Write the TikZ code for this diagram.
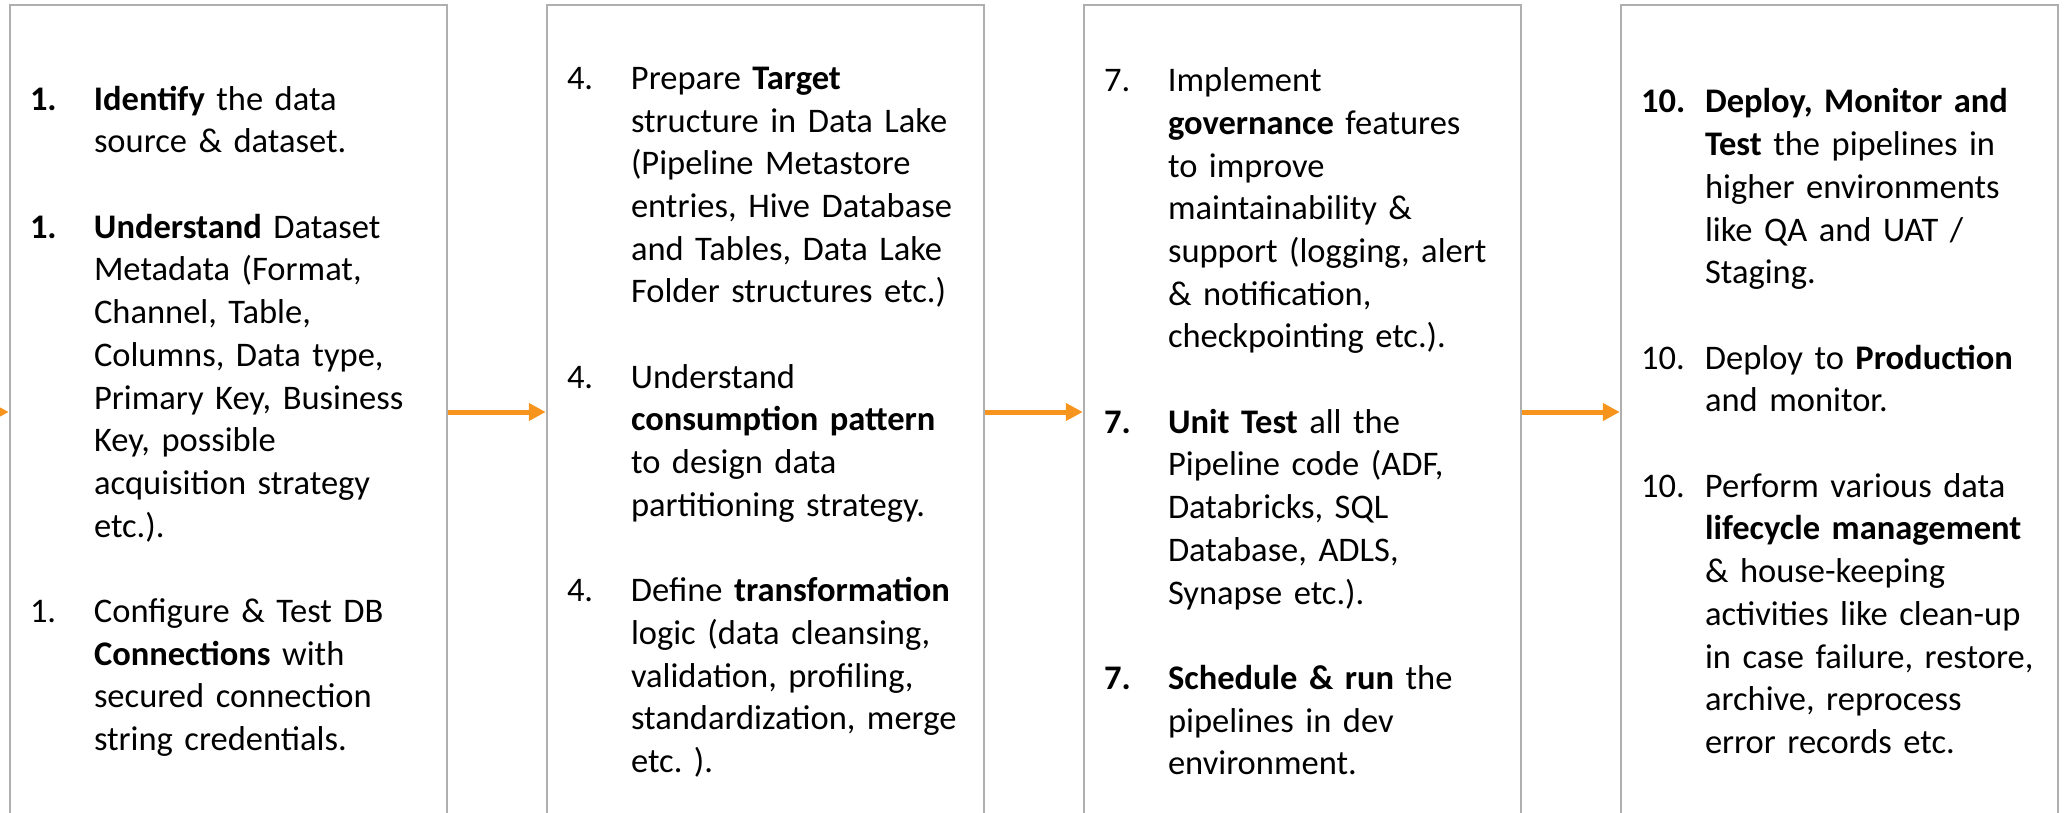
\documentclass[tikz,border=0pt]{standalone}
\usepackage{fontspec}
\setmainfont{Carlito}
\usetikzlibrary{positioning,arrows.meta}
\definecolor{boxgray}{RGB}{175,175,175}
\definecolor{floworange}{RGB}{247,148,29}
\frenchspacing
\newcommand{\stepline}[2]{\par\leftskip=9pt\hangindent=32pt\hangafter=1\noindent\makebox[32pt][l]{#1}#2\par}
\newcommand{\stepgap}{\par\vskip 21.35pt}

\begin{document}
\begin{tikzpicture}[x=0.5pt,y=-0.5pt,
  stage/.style={draw=boxgray, line width=1.25pt, minimum width=218.5pt, minimum height=407pt,
    text width=216.5pt, inner xsep=1pt, inner ysep=0pt, align=left,
    font=\fontsize{17.25}{21.35}\selectfont},
  flow/.style={draw=floworange, line width=2.5pt, -{Triangle[length=8.5pt,width=8.5pt]}}]
\useasboundingbox (0,0) rectangle (2065,813);
\clip (0,0) rectangle (2065,813);
\node[stage] (box1) at (228.5,412) {%
\stepline{\textbf{1.}}{\textbf{Identify} the data\newline source \& dataset.}\stepgap
\stepline{\textbf{1.}}{\textbf{Understand} Dataset\newline Metadata (Format,\newline Channel, Table,\newline Columns, Data type,\newline Primary Key, Business\newline Key, possible\newline acquisition strategy\newline etc.).}\stepgap
\stepline{1.}{Configure \& Test DB\newline \textbf{Connections} with\newline secured connection\newline string credentials.}};
\node[stage, right=48.75pt of box1] (box2) {%
\stepline{4.}{Prepare \textbf{Target}\newline structure in Data Lake\newline (Pipeline Metastore\newline entries, Hive Database\newline and Tables, Data Lake\newline Folder structures etc.)}\stepgap
\stepline{4.}{Understand\newline \textbf{consumption pattern}\newline to design data\newline partitioning strategy.}\stepgap
\stepline{4.}{Define \textbf{transformation}\newline logic (data cleansing,\newline validation, profiling,\newline standardization, merge\newline etc. ).}};
\node[stage, right=48.75pt of box2] (box3) {%
\stepline{7.}{Implement\newline \textbf{governance} features\newline to improve\newline maintainability \&\newline support (logging, alert\newline \& notification,\newline checkpointing etc.).}\stepgap
\stepline{\textbf{7.}}{\textbf{Unit Test} all the\newline Pipeline code (ADF,\newline Databricks, SQL\newline Database, ADLS,\newline Synapse etc.).}\stepgap
\stepline{\textbf{7.}}{\textbf{Schedule \& run} the\newline pipelines in dev\newline environment.}};
\node[stage, right=48.75pt of box3] (box4) {%
\stepline{\textbf{10.}}{\textbf{Deploy, Monitor and}\newline \textbf{Test} the pipelines in\newline higher environments\newline like QA and UAT /\newline Staging.}\stepgap
\stepline{10.}{Deploy to \textbf{Production}\newline and monitor.}\stepgap
\stepline{10.}{Perform various data\newline \textbf{lifecycle management}\newline \& house-keeping\newline activities like clean-up\newline in case failure, restore,\newline archive, reprocess\newline error records etc.}};
\coordinate (entry) at (-100,412);
\draw[flow] (entry) -- (box1.west);
\draw[flow] (box1.east) -- (box2.west);
\draw[flow] (box2.east) -- (box3.west);
\draw[flow] (box3.east) -- (box4.west);
\end{tikzpicture}
\end{document}
